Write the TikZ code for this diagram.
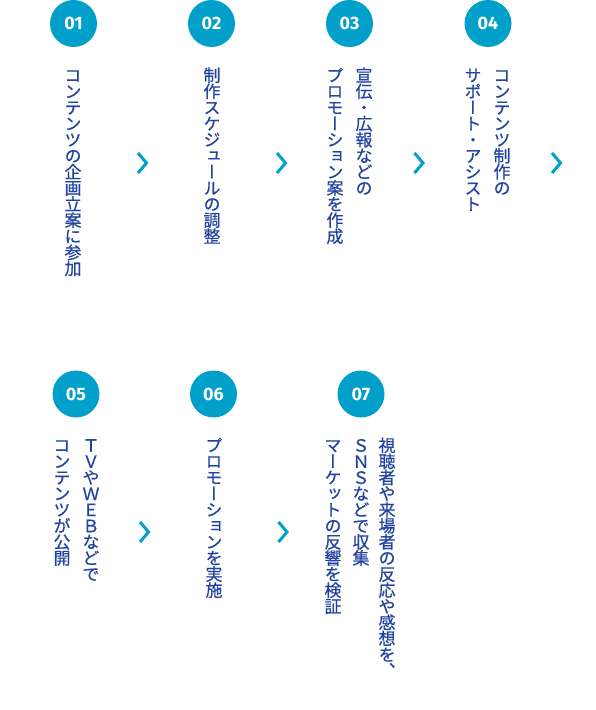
\documentclass[tikz,border=0pt]{standalone}
\usepackage{fontspec}
\setmainfont{Noto Sans CJK JP}
\newfontfamily\jp[RawFeature=+vert,FakeBold=0.6]{Noto Sans CJK JP}
\newfontfamily\numfont{Fira Sans}
\definecolor{tealc}{RGB}{0,160,202}
\definecolor{txtblue}{RGB}{34,68,160}
\ExplSyntaxOn
\NewDocumentCommand\vstack{m}{
  \vbox{\offinterlineskip
    \tl_map_inline:nn {#1}
      {\hbox_to_wd:nn {1em} {\hss \vrule~height~14.5pt~depth~1.6pt~width~0pt\relax ##1 \hss}}}
}
\ExplSyntaxOff
\tikzset{
  vtxt/.style={anchor=north, inner sep=0pt, font=\jp\fontsize{17pt}{16pt}\selectfont, text=txtblue},
  num/.style={circle, fill=tealc, minimum size=47pt, inner sep=0pt, text=white, font=\numfont\bfseries\fontsize{18pt}{18pt}\selectfont},
  chev/.style={draw=tealc, line width=3pt, miter limit=10}
}
\newcommand\chevron[1]{\draw[chev] ([shift={(-4,-10)}]#1) -- ([shift={(4.5,0)}]#1) -- ([shift={(-4,10)}]#1);}
\begin{document}
\begin{tikzpicture}[x=1pt,y=-1pt]
\useasboundingbox (0,0) rectangle (596,710);
% row 1 circles
\node[num] (n1) at (73.5,23.5) {01};
\node[num] (n2) at (211.5,23.5) {02};
\node[num] (n3) at (349.5,23.5) {03};
\node[num] (n4) at (488,23.5) {04};
% row 2 circles
\node[num] (n5) at (76,394) {05};
\node[num] (n6) at (213.5,394) {06};
\node[num] (n7) at (361,394) {07};
% row 1 texts
\node[vtxt] (t1) at (73,67) {\vstack{コンテンツの企画立案に参加}};
\node[vtxt] (t2) at (212,67) {\vstack{制作スケジュールの調整}};
\node[vtxt] (t3a) at (364,67) {\vstack{宣伝・広報などの}};
\node[vtxt] (t3b) at (335,67) {\vstack{プロモーション案を作成}};
\node[vtxt] (t4a) at (502,67) {\vstack{コンテンツ制作の}};
\node[vtxt] (t4b) at (473,67) {\vstack{サポート・アシスト}};
% row 2 texts
\node[vtxt] (t5a) at (91,437) {\vstack{ＴＶやＷＥＢなどで}};
\node[vtxt] (t5b) at (62,437) {\vstack{コンテンツが公開}};
\node[vtxt] (t6) at (214,437) {\vstack{プロモーションを実施}};
\node[vtxt] (t7a) at (387,437) {\vstack{視聴者や来場者の反応や感想を、}};
\node[vtxt] (t7b) at (361,437) {\vstack{ＳＮＳなどで収集}};
\node[vtxt] (t7c) at (333,437) {\vstack{マーケットの反響を検証}};
% chevrons
\coordinate (c1) at (142,163);
\coordinate (c2) at (281,163);
\coordinate (c3) at (418.5,163);
\coordinate (c4) at (556,163);
\coordinate (c5) at (144,532);
\coordinate (c6) at (282.5,532);
\chevron{c1}\chevron{c2}\chevron{c3}\chevron{c4}\chevron{c5}\chevron{c6}
\end{tikzpicture}
\end{document}
